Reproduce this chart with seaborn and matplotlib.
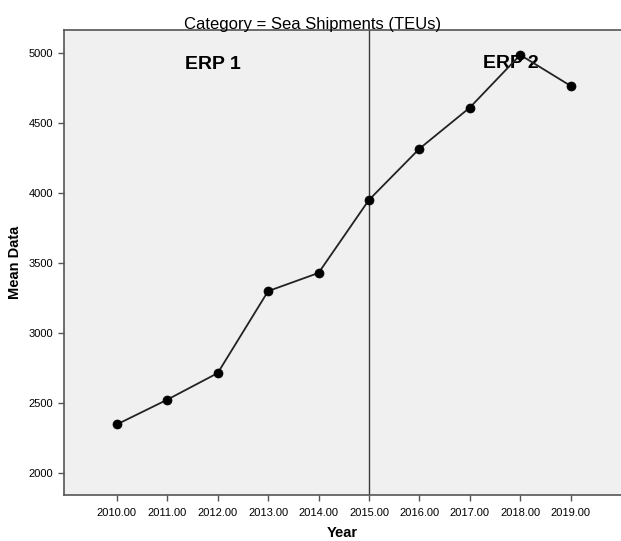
import pandas as pd
import matplotlib
matplotlib.use('Agg')
import matplotlib.pyplot as plt
import seaborn as sns

# Mean sea shipments (TEUs) per year
years = [2010, 2011, 2012, 2013, 2014, 2015, 2016, 2017, 2018, 2019]
mean_data = [2345, 2522, 2712, 3298, 3428, 3950, 4316, 4610, 4987, 4766]
year_labels = [f'{y}.00' for y in years]
y_ticks = [2000, 2500, 3000, 3500, 4000, 4500, 5000]

df = pd.DataFrame({'Year': years, 'Mean Data': mean_data})

sns.set_style('white')
plt.rcParams['font.family'] = ['Liberation Sans', 'DejaVu Sans']
plt.rcParams['text.color'] = 'black'
plt.rcParams['axes.labelcolor'] = 'black'
plt.rcParams['xtick.color'] = 'black'
plt.rcParams['ytick.color'] = 'black'

fig = plt.figure(figsize=(6.21, 5.41), dpi=100)
ax = fig.add_axes([0.103, 0.085, 0.897, 0.8595])
ax.set_facecolor('#f0f0f0')

sns.lineplot(data=df, x='Year', y='Mean Data', ax=ax, color='#222222',
             linewidth=1.3, marker='o', markersize=6.5, markeredgewidth=0.5,
             markerfacecolor='black', markeredgecolor='black', zorder=3)

# ERP cut-over
ax.axvline(2015, color='#3a3a3a', linewidth=1, zorder=2)
ax.text(2011.91, 4918, 'ERP 1', fontsize=14, fontweight='bold',
        ha='center', va='center', zorder=1)
ax.text(2017.82, 4928, 'ERP 2', fontsize=14, fontweight='bold',
        ha='center', va='center', zorder=1)

ax.set_xlim(2008.95, 2020.0)
ax.set_ylim(1840, 5165)
ax.set_xticks(years)
ax.set_xticklabels(year_labels)
ax.set_yticks(y_ticks)
ax.tick_params(axis='both', labelsize=8, length=4, width=1, color='#555555',
               labelcolor='black', direction='out', left=True, bottom=True)
ax.tick_params(axis='x', pad=5)

for side in ['left', 'bottom', 'top']:
    ax.spines[side].set_color('#555555')
    ax.spines[side].set_linewidth(1.2)
ax.spines['right'].set_visible(False)

ax.set_xlabel('Year', fontsize=10.5, fontweight='bold', labelpad=6)
ax.set_ylabel('Mean Data', fontsize=10.5, fontweight='bold', labelpad=5)
fig.text(0.503, 0.947, 'Category = Sea Shipments (TEUs)', fontsize=12,
         ha='center', va='baseline')

plt.savefig('out.png', dpi=100)
